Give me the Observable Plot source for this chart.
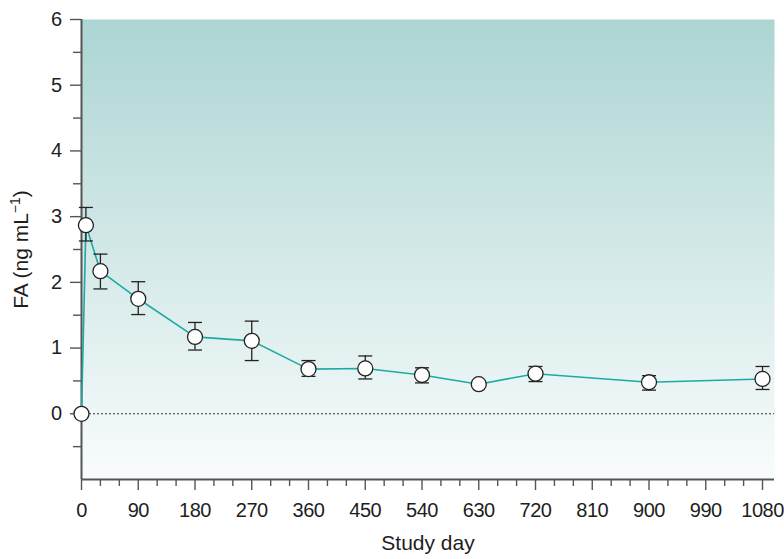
<!DOCTYPE html>
<html><head><meta charset="utf-8">
<script src="https://cdn.jsdelivr.net/npm/d3@7"></script>
<script src="https://cdn.jsdelivr.net/npm/@observablehq/plot@0.6"></script>
<style>
body{margin:0;background:#fff;}
svg g[aria-label*="tick label"] text { font-size: 20px !important; letter-spacing: -0.5px; }
</style>
</head><body><div id="chart"></div>
<script>
const days  = [0, 7, 30, 90, 180, 270, 360, 450, 540, 630, 720, 900, 1080];
const means = [0, 2.87, 2.17, 1.75, 1.17, 1.11, 0.68, 0.69, 0.59, 0.45, 0.61, 0.48, 0.53];
const lower = [null, 2.63, 1.90, 1.51, 0.97, 0.81, 0.57, 0.53, 0.47, null, 0.49, 0.36, 0.37];
const upper = [null, 3.14, 2.43, 2.01, 1.39, 1.41, 0.81, 0.88, 0.70, null, 0.72, 0.58, 0.72];
const xTicks = d3.range(0, 1081, 90);
const xMinorTicks = d3.range(0, 1081, 30).filter(d => d % 90 !== 0);
const yTicks = [0, 1, 2, 3, 4, 5, 6];
const yMinorTicks = [-0.5, 0.5, 1.5, 2.5, 3.5, 4.5, 5.5];
const xTitle = "Study day";
const yTitle = "FA (ng mL⁻¹)";

const data = days.map((d, i) => ({day: d, mean: means[i], lo: lower[i], hi: upper[i]}));
const bars = data.filter(d => d.lo != null);

const cap = {draw(ctx, size) { const w = Math.sqrt(size / Math.PI); ctx.moveTo(-w, 0); ctx.lineTo(w, 0); }};

const axisColor = "#555";
const svg = Plot.plot({
  width: 784, height: 559,
  marginLeft: 81, marginRight: 10, marginTop: 19, marginBottom: 80,
  style: {fontFamily: "'Liberation Sans', Arial, sans-serif", fontSize: "20px", color: "#1e1e1e", background: "white"},
  x: {domain: [0, 1099], label: null},
  y: {domain: [-1, 6], label: null},
  marks: [
    Plot.frame({fill: "url(#bg)", stroke: null}),
    Plot.ruleY([0], {stroke: "#333", strokeDasharray: "2,2", strokeWidth: 1}),
    Plot.axisX(xTicks, {tickSize: 11, tickPadding: 12, stroke: axisColor, strokeWidth: 1.4, label: null, fontSize: 20, fill: "#1e1e1e", tickFormat: d => String(d)}),
    Plot.axisX(xMinorTicks, {tickSize: 7, stroke: axisColor, strokeWidth: 1.4, label: null, tickFormat: () => ""}),
    Plot.axisY(yTicks, {tickSize: 11, tickPadding: 9, stroke: axisColor, strokeWidth: 1.4, label: null, fontSize: 20, fill: "#1e1e1e", tickFormat: d => String(d)}),
    Plot.axisY(yMinorTicks, {tickSize: 8, stroke: axisColor, strokeWidth: 1.4, label: null, tickFormat: () => ""}),
    Plot.ruleX([0], {y1: -1, y2: 6, stroke: axisColor, strokeWidth: 2}),
    Plot.ruleY([-1], {stroke: axisColor, strokeWidth: 2}),
    Plot.line(data, {x: "day", y: "mean", stroke: "#1fa9a3", strokeWidth: 1.6}),
    Plot.ruleX(bars, {x: "day", y1: "lo", y2: "hi", stroke: "#222", strokeWidth: 1.3}),
    Plot.dot(bars, {x: "day", y: "lo", symbol: cap, r: 7, stroke: "#222", strokeWidth: 1.3, fill: "none"}),
    Plot.dot(bars, {x: "day", y: "hi", symbol: cap, r: 7, stroke: "#222", strokeWidth: 1.3, fill: "none"}),
    Plot.dot(data, {x: "day", y: "mean", r: 7.5, fill: "white", stroke: "#222", strokeWidth: 1.3}),
    Plot.text([xTitle], {frameAnchor: "bottom", dy: 70, fontSize: 21, fill: "#1e1e1e"}),
    Plot.text([yTitle], {frameAnchor: "left", textAnchor: "middle", rotate: -90, dx: -60, fontSize: 21, fill: "#1e1e1e"})
  ]
});
d3.select(svg).insert("defs", ":first-child").html(
  '<linearGradient id="bg" x1="0" y1="0" x2="0" y2="1">' +
  '<stop offset="0" stop-color="#acd5d3"/><stop offset="1" stop-color="#f9fcfc"/></linearGradient>');
// render the superscript of the y title as a raised, smaller tspan
d3.select(svg).selectAll("text").filter(function() { return this.textContent === yTitle; }).each(function() {
  const t = d3.select(this);
  t.text(null);
  t.append("tspan").text("FA (ng mL");
  t.append("tspan").attr("font-size", 14).attr("dy", -8).text("−1");
  t.append("tspan").attr("dy", 8).text(")");
});
document.getElementById("chart").appendChild(svg);
</script>
</body></html>
